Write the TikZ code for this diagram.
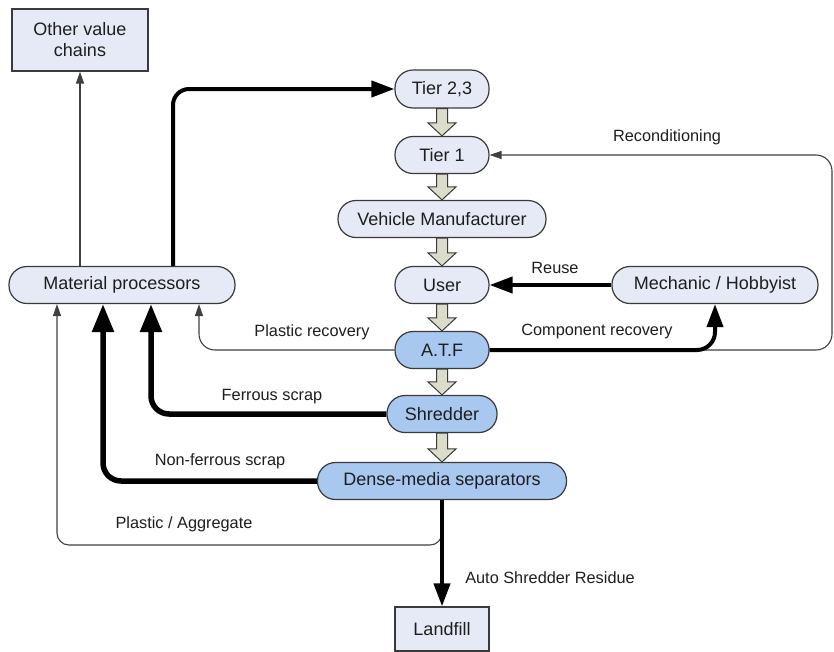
\documentclass[tikz,border=0pt]{standalone}
\usepackage{fontspec}
\setmainfont{Liberation Sans}
\usetikzlibrary{arrows.meta,calc}
\definecolor{nodefill}{HTML}{E6EAF6}
\definecolor{bluefill}{HTML}{A8C8F0}
\definecolor{edgegray}{HTML}{3A3A3A}
\definecolor{blockfill}{HTML}{DCDCCA}
\definecolor{thingray}{HTML}{404040}
\definecolor{txt}{HTML}{1E1E1E}
\newcommand\blockarrow[2]{%
  \path[blockarr] let \p1=(#1.south), \p2=(#2.north) in
   (\x1-5.5pt,\y1) -- (\x1-5.5pt,\y2+13pt) -- (\x1-14pt,\y2+13pt) -- (\x1,\y2)
   -- (\x1+14pt,\y2+13pt) -- (\x1+5.5pt,\y2+13pt) -- (\x1+5.5pt,\y1) -- cycle;}
\begin{document}
\begin{tikzpicture}[x=1pt,y=-1pt,
  pill/.style={draw=edgegray, line width=1.2pt, fill=nodefill, rounded corners=18pt,
    minimum height=37pt, inner sep=0pt, text=txt, font=\fontsize{18}{21}\selectfont},
  bluepill/.style={pill, fill=bluefill},
  box/.style={draw=edgegray, line width=1.2pt, fill=nodefill, inner sep=0pt, text=txt,
    align=center, font=\fontsize{18}{21}\selectfont},
  lbl/.style={font=\fontsize{16.3}{19}\selectfont, inner sep=0pt, text=txt},
  thinarr/.style={draw=thingray, line width=1.1pt, rounded corners=16pt,
    -{Triangle[length=12pt,width=8pt]}},
  thickarr/.style={draw=black, line width=4pt, rounded corners=16pt,
    -{Triangle[length=23pt,width=16pt]}},
  heavyarr/.style={draw=black, line width=5.5pt, rounded corners=18pt,
    -{Triangle[length=28pt,width=21pt]}},
  blockarr/.style={draw=edgegray, line width=1pt, fill=blockfill, line join=miter}
]
\useasboundingbox (0,0) rectangle (834,651);
\fill[white] (0,0) rectangle (834,651);

% nodes
\node[box, minimum width=136pt, minimum height=62pt] (ovc) at (80,40) {Other value\\chains};
\node[pill, minimum width=226pt] (mp) at (122,285) {Material processors};
\node[pill, minimum width=94pt, minimum height=38pt] (t23) at (442,89) {Tier 2,3};
\node[pill, minimum width=94pt] (t1) at (442,155) {Tier 1};
\node[pill, minimum width=208pt] (vm) at (442,219) {Vehicle Manufacturer};
\node[pill, minimum width=94pt] (user) at (442,285) {User};
\node[pill, minimum width=206pt] (mech) at (715,285) {Mechanic / Hobbyist};
\node[bluepill, minimum width=94pt] (atf) at (442,350) {A.T.F};
\node[bluepill, minimum width=110pt] (shr) at (442,414) {Shredder};
\node[bluepill, minimum width=249pt] (dms) at (442,481) {Dense-media separators};
\node[box, minimum width=94pt, minimum height=44pt] (lf) at (442,629) {Landfill};

% block arrows down the main column
\blockarrow{t23}{t1}
\blockarrow{t1}{vm}
\blockarrow{vm}{user}
\blockarrow{user}{atf}
\blockarrow{atf}{shr}
\blockarrow{shr}{dms}

% helper coordinates
\coordinate (rcx) at (832,0);
\coordinate (pa) at (442,530);
\coordinate (pab) at (57,545);

% connectors
\draw[thinarr] (ovc.south |- mp.north) -- (ovc.south);
\draw[thickarr] ([xshift=51pt]mp.north) |- (t23.west);
\draw[thinarr] (atf.east) -- (atf.east -| rcx) |- (t1.east);
\draw[thickarr, rounded corners=18pt] (atf.east) -| (mech.south);
\draw[thickarr] (mech.west) -- (user.east);
\draw[thinarr] (atf.west) -| ([xshift=77pt]mp.south);
\draw[heavyarr] (shr.west) -| ([xshift=29pt]mp.south);
\draw[heavyarr] (dms.west) -| ([xshift=-19pt]mp.south);
\draw[thinarr, rounded corners=12pt] (pa) |- (pab) -- ([xshift=-65pt]mp.south);
\draw[thickarr] (dms.south) -- (lf.north);

% labels
\node[lbl] (lrec) at (667,137) {Reconditioning};
\node[lbl] (lreuse) at (555,268) {Reuse};
\node[lbl] (lcomp) at (597,331) {Component recovery};
\node[lbl] (lplas) at (312,332) {Plastic recovery};
\node[lbl] (lfer) at (272,397) {Ferrous scrap};
\node[lbl] (lnon) at (220,461) {Non-ferrous scrap};
\node[lbl] (lagg) at (184,524) {Plastic / Aggregate};
\node[lbl] (lasr) at (550,578) {Auto Shredder Residue};
\end{tikzpicture}
\end{document}
